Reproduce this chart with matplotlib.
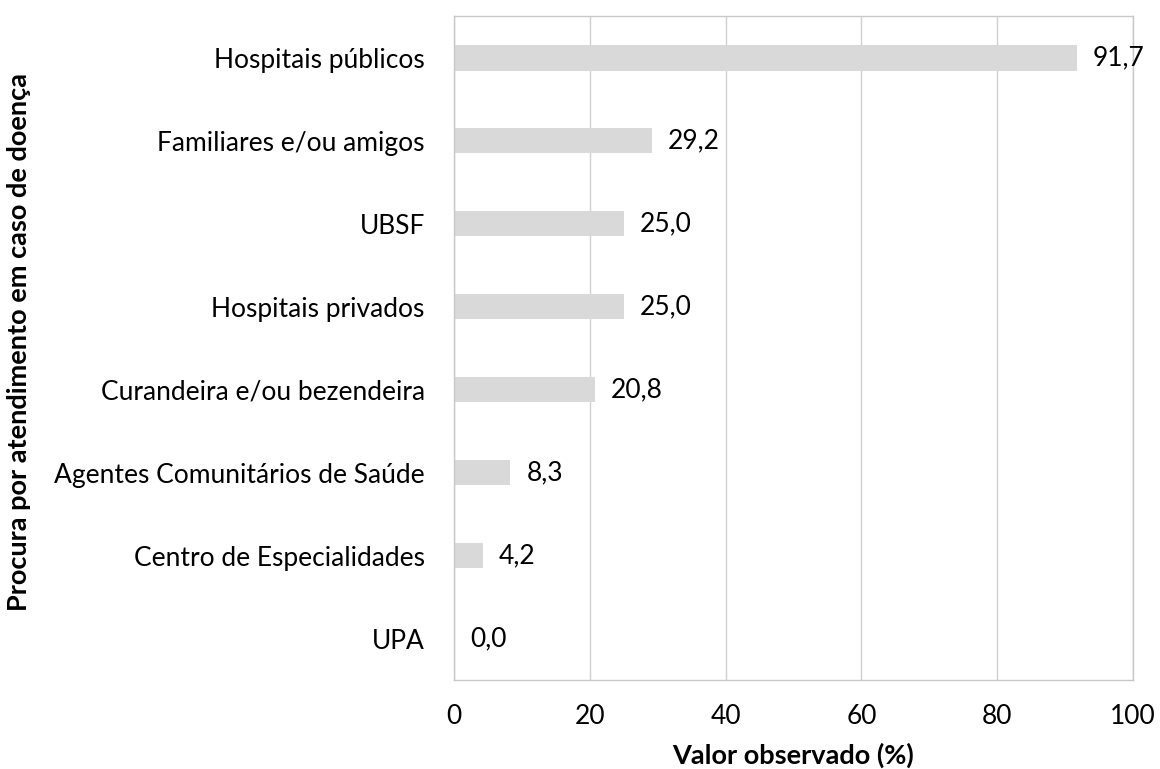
import matplotlib.pyplot as plt

plt.rcParams['font.family'] = ['Lato', 'DejaVu Sans']

categorias = ["Hospitais públicos", "Familiares e/ou amigos", "UBSF", "Hospitais privados",
              "Curandeira e/ou bezendeira", "Agentes Comunitários de Saúde",
              "Centro de Especialidades", "UPA"]
valores = [91.7, 29.2, 25.0, 25.0, 20.8, 8.3, 4.2, 0.0]

fig = plt.figure(figsize=(11.6, 7.69), dpi=100)
ax = fig.add_axes([0.3914, 0.1157, 0.5853, 0.8633])

pos = list(range(len(categorias)))
ax.barh(pos, valores, height=0.31, color="#d9d9d9", zorder=2)

# rótulos de valor com vírgula decimal
for y, v in zip(pos, valores):
    ax.annotate(f"{v:.1f}".replace(".", ","), xy=(v, y), xytext=(11.5, 0),
                textcoords="offset points", va="center", ha="left",
                fontsize=19, color="#000000")

ax.set_xlim(0, 100)
ax.set_ylim(len(categorias) - 0.5, -0.5)
ax.set_xticks(range(0, 101, 20))
ax.set_yticks(pos)
ax.set_yticklabels(categorias)
ax.tick_params(axis="both", length=0, labelsize=19, colors="#000000")
ax.tick_params(axis="x", pad=17)
ax.tick_params(axis="y", pad=21)

ax.grid(axis="x", color="#d0d0d0", linewidth=1.0, zorder=0)
for s in ax.spines.values():
    s.set_color("#c8c8c8")
    s.set_linewidth(1.0)

ax.set_xlabel("Valor observado (%)", fontsize=19.5, fontweight="bold", labelpad=10)
fig.text(0.016, 0.555, "Procura por atendimento em caso de doença", rotation=90,
         ha="center", va="center", fontsize=19.5, fontweight="bold")

fig.savefig("out.png", dpi=100)
